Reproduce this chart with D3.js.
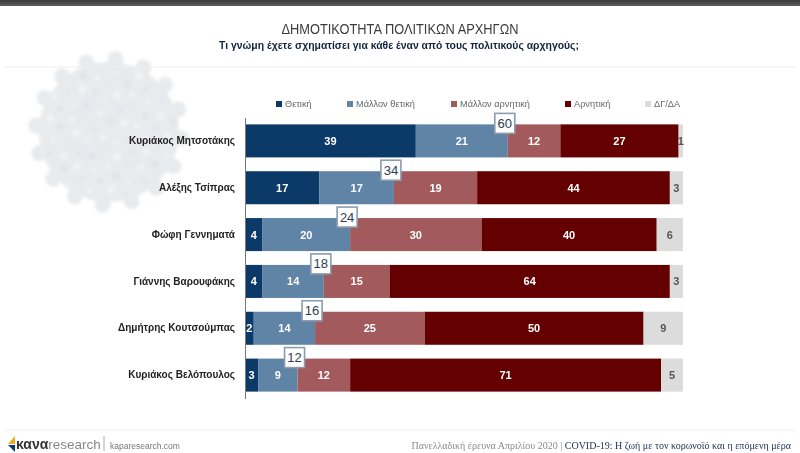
<!DOCTYPE html>
<html>
<head>
<meta charset="utf-8">
<script src="https://cdn.jsdelivr.net/npm/d3@7"></script>
<style>
  html, body { margin: 0; padding: 0; background: #fff; overflow: hidden; }
  svg { filter: blur(0.4px); }
  text { font-family: "Liberation Sans", Arial, sans-serif; }
  .axis .domain { stroke: #777; stroke-width: 1; }
  .axis .tick line { display: none; }
  .axis .tick text { font-size: 10px; font-weight: bold; fill: #222; }
</style>
</head>
<body>
<div id="chart"></div>
<script>
// data
var leaders = ["Κυριάκος Μητσοτάκης", "Αλέξης Τσίπρας", "Φώφη Γεννηματά", "Γιάννης Βαρουφάκης", "Δημήτρης Κουτσούμπας", "Κυριάκος Βελόπουλος"];
var seriesNames = ["Θετική", "Μάλλον θετική", "Μάλλον αρνητική", "Αρνητική", "ΔΓ/ΔΑ"];
var positive = [39, 17, 4, 4, 2, 3];
var ratherPositive = [21, 17, 20, 14, 14, 9];
var ratherNegative = [12, 19, 30, 15, 25, 12];
var negative = [27, 44, 40, 64, 50, 71];
var noAnswer = [1, 3, 6, 3, 9, 5];
var totals = [60, 34, 24, 18, 16, 12];
var colors = ["#0b3a68", "#5f84a5", "#a25a5c", "#640000", "#dcdcdc"];
var textColors = ["#fff", "#fff", "#fff", "#fff", "#555"];

var svgWidth = 800;
var svgHeight = 453;

var svg = d3.select("#chart").append("svg")
    .attr("width", svgWidth)
    .attr("height", svgHeight)
    .style("display", "block");

var defs = svg.append("defs");

var topGrad = defs.append("linearGradient").attr("id", "topGrad")
    .attr("x1", 0).attr("x2", 0).attr("y1", 0).attr("y2", 1);
topGrad.append("stop").attr("offset", "0%").attr("stop-color", "#3a3a3a");
topGrad.append("stop").attr("offset", "100%").attr("stop-color", "#5e5e5e");

defs.append("filter").attr("id", "blotchy")
    .append("feGaussianBlur").attr("stdDeviation", 1.5);

// virus in the background, pale and mottled
var virusColor = "#e8ebee";
var virus = svg.append("g").attr("transform", "translate(109,132)").attr("filter", "url(#blotchy)");
virus.append("circle").attr("r", 70).attr("fill", virusColor);

var spikeAngles = [5, 28, 50, 72, 95, 118, 140, 163, 185, 208, 230, 252, 275, 298, 320, 342];
spikeAngles.forEach(function(a) {
    var rad = a * Math.PI / 180;
    virus.append("circle")
        .attr("cx", 73 * Math.cos(rad)).attr("cy", 73 * Math.sin(rad))
        .attr("r", 8).attr("fill", virusColor);
});

// light specks on the body of the virus
d3.range(1, 70).forEach(function(i) {
    var r = 66 * Math.sqrt(i / 70);
    var a = i * 2.39996;
    virus.append("circle")
        .attr("cx", r * Math.cos(a)).attr("cy", r * Math.sin(a))
        .attr("r", 2 + (i % 3))
        .attr("fill", i % 2 ? "#f0f2f3" : "#e1e4e8");
});

// header
svg.append("rect").attr("width", svgWidth).attr("height", 6).attr("fill", "url(#topGrad)");

svg.append("text")
    .attr("x", 400).attr("y", 34)
    .attr("text-anchor", "middle")
    .attr("font-size", 15)
    .attr("fill", "#3c3c3c")
    .attr("textLength", 237)
    .attr("lengthAdjust", "spacingAndGlyphs")
    .text("ΔΗΜΟΤΙΚΟΤΗΤΑ ΠΟΛΙΤΙΚΩΝ ΑΡΧΗΓΩΝ");

svg.append("text")
    .attr("x", 399).attr("y", 49)
    .attr("text-anchor", "middle")
    .attr("font-size", 11)
    .attr("font-weight", "bold")
    .attr("fill", "#14233c")
    .attr("textLength", 360)
    .attr("lengthAdjust", "spacingAndGlyphs")
    .text("Τι γνώμη έχετε σχηματίσει για κάθε έναν από τους πολιτικούς αρχηγούς;");

svg.append("line")
    .attr("x1", 5).attr("x2", 795).attr("y1", 67).attr("y2", 67)
    .attr("stroke", "#eeeeee");

// scales
var x = d3.scaleLinear().domain([0, 100]).range([245, 683]);
var y = d3.scaleBand().domain(leaders).range([117.5, 398.5]).paddingInner(0.295).paddingOuter(0.147);

var rows = leaders.map(function(name, i) {
    return {
        name: name,
        "Θετική": positive[i],
        "Μάλλον θετική": ratherPositive[i],
        "Μάλλον αρνητική": ratherNegative[i],
        "Αρνητική": negative[i],
        "ΔΓ/ΔΑ": noAnswer[i],
        total: totals[i]
    };
});

var stacked = d3.stack().keys(seriesNames)(rows);

// bars
var groups = svg.selectAll("g.layer").data(stacked).enter().append("g").attr("class", "layer");

groups.selectAll("rect").data(function(d) { return d; }).enter().append("rect")
    .attr("x", function(d) { return x(d[0]); })
    .attr("y", function(d) { return y(d.data.name); })
    .attr("width", function(d) { return x(d[1]) - x(d[0]); })
    .attr("height", y.bandwidth())
    .attr("fill", function(d) { return colors[seriesNames.indexOf(d3.select(this.parentNode).datum().key)]; });

// value labels
groups.each(function(layer, s) {
    d3.select(this).selectAll("text").data(layer).enter().append("text")
        .attr("x", function(d) { return (x(d[0]) + x(d[1])) / 2; })
        .attr("y", function(d) { return y(d.data.name) + y.bandwidth() / 2 + 4; })
        .attr("text-anchor", "middle")
        .attr("font-size", 11)
        .attr("font-weight", "bold")
        .attr("fill", textColors[s])
        .text(function(d) { return d[1] - d[0]; });
});

// left axis with names
svg.append("g")
    .attr("class", "axis")
    .attr("transform", "translate(245,0)")
    .call(d3.axisLeft(y).tickSize(0).tickPadding(10).tickSizeOuter(0));

// total boxes
var boxes = svg.selectAll("g.total").data(rows).enter().append("g")
    .attr("class", "total")
    .attr("transform", function(d) {
        return "translate(" + (x(d.total) - 3) + "," + (y(d.name) - 1) + ")";
    });

boxes.append("rect")
    .attr("x", -10).attr("y", -10)
    .attr("width", 20).attr("height", 20)
    .attr("fill", "#fff")
    .attr("stroke", "#8b9bb0")
    .attr("stroke-width", 1.6);

boxes.append("text")
    .attr("y", 4.5)
    .attr("text-anchor", "middle")
    .attr("font-size", 13)
    .attr("fill", "#2c3e55")
    .text(function(d) { return d.total; });

// legend
var legendX = [276, 347, 451, 565, 645];
var legend = svg.selectAll("g.legend").data(seriesNames).enter().append("g")
    .attr("class", "legend")
    .attr("transform", function(d, i) { return "translate(" + legendX[i] + ",105)"; });

legend.append("rect")
    .attr("y", -4).attr("width", 6).attr("height", 6)
    .attr("fill", function(d, i) { return colors[i]; });

legend.append("text")
    .attr("x", 9).attr("y", 2)
    .attr("font-size", 9.2)
    .attr("fill", "#666")
    .text(function(d) { return d; });

// footer
svg.append("line")
    .attr("x1", 5).attr("x2", 795).attr("y1", 430).attr("y2", 430)
    .attr("stroke", "#eeeeee");

var logoColors = ["#f0a81e", "#0b3a68"];
svg.append("path").attr("d", "M8 444 L15 436 L15 444 Z").attr("fill", logoColors[0]);
svg.append("path").attr("d", "M8 445 L15 445 L15 452 Z").attr("fill", logoColors[1]);

var logo = svg.append("text").attr("x", 16).attr("y", 449).attr("font-size", 14);
logo.append("tspan").attr("font-weight", "bold").attr("fill", "#333").text("κανα");
logo.append("tspan").attr("fill", "#888").attr("font-weight", "normal").attr("font-size", 13.5).text("research");

svg.append("line")
    .attr("x1", 104).attr("x2", 104).attr("y1", 436).attr("y2", 451)
    .attr("stroke", "#aaa");

svg.append("text")
    .attr("x", 110).attr("y", 448.5)
    .attr("font-size", 8.5)
    .attr("fill", "#777")
    .text("kaparesearch.com");

var foot = svg.append("text")
    .attr("x", 791).attr("y", 449)
    .attr("text-anchor", "end")
    .attr("font-size", 10)
    .style("font-family", "'Liberation Serif', serif");
foot.append("tspan").attr("fill", "#8a8a8a").text("Πανελλαδική έρευνα Απριλίου 2020 | ");
foot.append("tspan").attr("fill", "#1d2f4d").text("COVID-19: Η ζωή με τον κορωνοϊό και η επόμενη μέρα");
</script>
</body>
</html>
